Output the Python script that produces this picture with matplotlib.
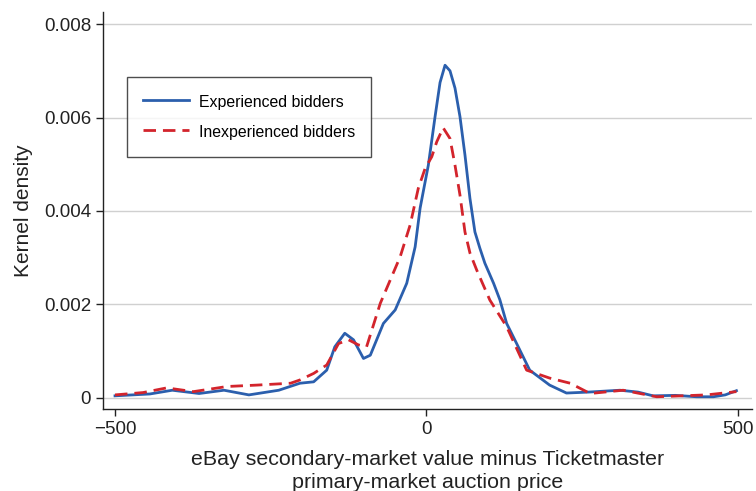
import matplotlib
matplotlib.use("Agg")
import matplotlib.pyplot as plt

plt.rcParams['font.family'] = ['Liberation Sans', 'DejaVu Sans']

# Experienced bidders (solid blue)
exp_x = [-500, -444, -408, -365, -325, -285, -237, -203, -181, -160, -147, -131, -117,
         -101, -90, -69, -50, -31.5, -18, -10, -3, 3.2, 14, 22, 30, 38, 46, 54, 62, 70, 78,
         86, 94, 108, 118, 129, 145, 166, 198, 225, 260, 311, 340, 364, 400, 434, 461,
         480, 498]
exp_y = [0.00004, 0.00008, 0.00016, 0.00009, 0.00016, 0.00006, 0.00016, 0.00031, 0.00034,
         0.00059, 0.00109, 0.00138, 0.00124, 0.00084, 0.00091, 0.00159, 0.00188, 0.00245,
         0.00323, 0.00406, 0.00455, 0.00498, 0.00602, 0.00675, 0.00712, 0.00700, 0.00663,
         0.00602, 0.0052, 0.00427, 0.00355, 0.0032, 0.00288, 0.00245, 0.0021, 0.00159,
         0.00116, 0.00059, 0.00027, 0.0001, 0.00012, 0.00016, 0.00012, 0.00004, 0.00005,
         0.00002, 0.00002, 0.00006, 0.00015]

# Inexperienced bidders (dashed red)
inexp_x = [-500, -455, -417, -374, -320, -272, -218, -203, -181, -160, -141, -125, -109,
           -96, -74, -58, -42, -26, -13, -2, 8.7, 16.7, 27, 38, 46, 54, 62, 70, 81, 102,
           129, 161, 198, 231, 263, 316, 370, 450, 498]
inexp_y = [0.00006, 0.00011, 0.00021, 0.00013, 0.00024, 0.00027, 0.00031, 0.00038, 0.00052,
           0.0007, 0.00116, 0.00124, 0.00113, 0.00109, 0.00202, 0.00252, 0.00302, 0.0037,
           0.00448, 0.00491, 0.00516, 0.00548, 0.00578, 0.00555, 0.00498, 0.00434, 0.00355,
           0.0031, 0.00273, 0.00209, 0.00152, 0.00059, 0.00042, 0.00031, 0.00009, 0.00016,
           0.00002, 0.00006, 0.00013]

x_ticks = [-500, 0, 500]
x_ticklabels = ['\u2212500', '0', '500']
y_ticks = [0, 0.002, 0.004, 0.006, 0.008]
y_ticklabels = ['0', '0.002', '0.004', '0.006', '0.008']

fig = plt.figure(figsize=(7.56, 4.91), dpi=100)
ax = fig.add_axes([103/756, 1 - 409/491, (752 - 103)/756, (409 - 12)/491])

blue = '#2b5fad'
red = '#d3242c'
ax.plot(exp_x, exp_y, color=blue, lw=2.0, label='Experienced bidders', zorder=3,
        solid_joinstyle='round')
ax.plot(inexp_x, inexp_y, color=red, lw=2.0, dashes=(4.5, 2.5), label='Inexperienced bidders',
        zorder=3)

ax.set_xlim(-519.3, 523)
ax.set_ylim(-0.000242, 0.00826)
ax.set_xticks(x_ticks)
ax.set_xticklabels(x_ticklabels)
ax.set_yticks(y_ticks)
ax.set_yticklabels(y_ticklabels)
ax.tick_params(axis='both', direction='out', length=5, width=1, colors='#222222',
               labelsize=13.5, labelcolor='#222222')
ax.yaxis.grid(True, color='#d0d0d0', lw=1)
ax.set_axisbelow(True)
for s in ['top', 'right']:
    ax.spines[s].set_visible(False)
for s in ['left', 'bottom']:
    ax.spines[s].set_color('#222222')
    ax.spines[s].set_linewidth(1)

ax.set_ylabel('Kernel density', fontsize=15, color='#222222', labelpad=8)
ax.set_xlabel('eBay secondary-market value minus Ticketmaster\nprimary-market auction price',
              fontsize=15.4, color='#222222', linespacing=1.25, labelpad=9)

leg = ax.legend(loc='upper left', bbox_to_anchor=((127 - 103)/649, (409 - 77)/397),
                frameon=True, fancybox=False, fontsize=11.4, handlelength=2.9,
                handleheight=1.45, borderpad=1.0, labelspacing=0.7, borderaxespad=0,
                handletextpad=0.65)
leg.get_frame().set_edgecolor('#222222')
leg.get_frame().set_linewidth(1)

fig.savefig('out.png', dpi=100)
